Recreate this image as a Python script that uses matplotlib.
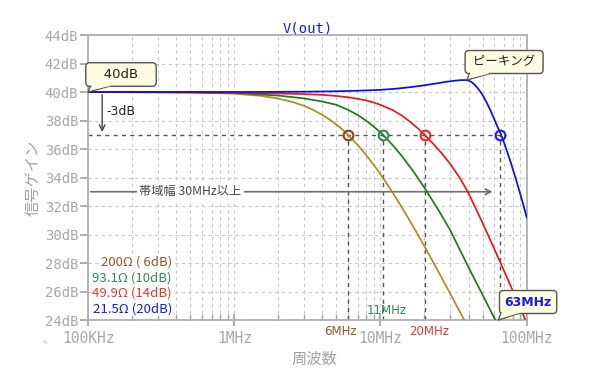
import matplotlib
matplotlib.use("Agg")
import matplotlib.pyplot as plt
from matplotlib.ticker import FixedLocator, NullFormatter

plt.rcParams['font.family'] = ['DejaVu Sans', 'Noto Sans CJK JP']
JP = ['Noto Sans CJK JP', 'DejaVu Sans']
MONO = ['DejaVu Sans Mono', 'Noto Sans CJK JP']

# ---- data (frequency in MHz, gain in dB) ----
f_brown = [0.1, 0.5, 1, 1.5, 2, 2.5, 3, 3.5, 4, 4.5, 5, 5.5, 6, 7, 8, 9, 10, 12, 15, 18, 20, 25, 30, 35, 40]
db_brown = [40.0, 39.97, 39.88, 39.74, 39.54, 39.30, 39.03, 38.72, 38.40, 38.06, 37.71, 37.36, 36.99,
            36.27, 35.56, 34.88, 34.23, 33.01, 31.40, 30.00, 29.17, 27.36, 25.85, 24.55, 23.43]

f_green = [0.1, 0.5, 1, 2, 3, 4, 5, 6, 7, 8, 9, 10.4, 12, 14, 17, 20, 25, 30, 40, 50, 60, 70]
db_green = [40.0, 39.98, 39.93, 39.75, 39.55, 39.33, 39.10, 38.75, 38.38, 37.98, 37.57, 37.0,
            36.32, 35.51, 34.35, 33.28, 31.69, 30.30, 27.70, 25.75, 24.15, 22.80]

f_red = [0.1, 1, 2, 3, 4, 5, 6, 7, 8, 9, 10, 12, 14, 16, 18, 20, 23, 26, 30, 35, 40, 50, 60, 70, 80, 90, 100]
db_red = [40.0, 39.95, 39.9, 39.85, 39.8, 39.72, 39.63, 39.52, 39.4, 39.26, 39.1, 38.75, 38.35, 37.9,
          37.45, 37.0, 36.35, 35.75, 34.95, 33.95, 32.9, 30.8, 29.0, 27.45, 26.1, 24.9, 23.8]

f_blue = [0.1, 1, 2, 3, 5, 7, 10, 13, 16, 20, 24, 28, 32, 35, 38, 40, 42, 44, 46, 48, 50, 53, 56, 59,
          62, 66.8, 70, 77, 84, 90, 95, 100]
db_blue = [40.0, 40.0, 40.01, 40.02, 40.05, 40.09, 40.15, 40.24, 40.34, 40.47, 40.6, 40.71, 40.79,
           40.83, 40.84, 40.8, 40.7, 40.52, 40.3, 40.05, 39.78, 39.3, 38.8, 38.27, 37.75, 37.0,
           36.45, 35.2, 33.95, 32.9, 32.05, 31.2]

marker_f = [6.0, 10.4, 20.2, 66.0]
marker_db = 37.0
freq_labels = ["6MHz", "11MHz", "20MHz", "63MHz"]
legend_labels = ["200Ω ( 6dB)", "93.1Ω (10dB)", "49.9Ω (14dB)", "21.5Ω (20dB)"]
yticks = [24, 26, 28, 30, 32, 34, 36, 38, 40, 42, 44]
xticks = [0.1, 1, 10, 100]
xticklabels = ["100KHz", "1MHz", "10MHz", "100MHz"]
bw_db = 33.0
bw_end = 61.0

curve_colors = ["#b08a22", "#1f7a1f", "#e81818", "#0a0af0"]
text_colors = ["#8b5a2b", "#2e8b57", "#e03a2a", "#1a1ae0"]
marker_colors = ["#8b4513", "#2e8b57", "#e03020", "#1a1ae0"]

fig = plt.figure(figsize=(6.0, 3.81), dpi=100)
ax = fig.add_axes([88/600, 1-320/381, (526.7-88)/600, (320-35)/381])
ax.set_xscale('log')
ax.set_xlim(0.1, 100)
ax.set_ylim(24, 44)


def px2d(px, py):
    """pixel position of the reference layout -> data coordinates"""
    return 0.1*10**((px-88)/146.2), 44-(py-35)/14.25


# grid
minors = [m*10.0**e for e in range(-1, 2) for m in range(2, 10)]
ax.xaxis.set_major_locator(FixedLocator(xticks))
ax.xaxis.set_minor_locator(FixedLocator(minors))
ax.xaxis.set_minor_formatter(NullFormatter())
ax.set_xticklabels(xticklabels)
ax.set_yticks(yticks)
ax.set_yticklabels([f"{v}dB" for v in yticks])
ax.grid(True, which='both', axis='x', color='#c8c8c8', linestyle=(0, (3, 3)), lw=0.8)
ax.grid(True, which='major', axis='y', color='#c8c8c8', linestyle=(0, (3, 3)), lw=0.8)
ax.set_axisbelow(True)

for s in ax.spines.values():
    s.set_color('#b4b4b4')
    s.set_linewidth(1.4)
ax.tick_params(axis='y', which='major', direction='out', length=6, color='#a0a0a0',
               labelcolor='#a8a8a8', labelsize=10, width=1.2, pad=1)
ax.tick_params(axis='x', which='major', direction='inout', length=8, color='#a0a0a0',
               labelcolor='#a8a8a8', labelsize=10.5, width=1.2, pad=4)
ax.tick_params(axis='x', which='minor', direction='in', length=4, color='#a0a0a0', width=1.0)
for lbl in ax.get_xticklabels() + ax.get_yticklabels():
    lbl.set_fontfamily(MONO)

# dark dashed reference lines
ax.plot([0.1, 72], [marker_db, marker_db], color='#555555', lw=1.0, ls=(0, (3, 3)), zorder=2)
for mf in marker_f:
    ax.plot([mf, mf], [24, marker_db], color='#555555', lw=1.0, ls=(0, (3, 3)), zorder=2)

# curves
series = [(f_brown, db_brown), (f_green, db_green), (f_red, db_red), (f_blue, db_blue)]
for (fx, dy), c in zip(series, curve_colors):
    ax.plot(fx, dy, color=c, lw=1.25, zorder=4)
for mf, mc in zip(marker_f, marker_colors):
    ax.plot([mf], [marker_db], marker='o', ms=7, mfc='none', mec=mc, mew=1.5, zorder=5)

# bandwidth arrow
ax.annotate("", xy=(bw_end, bw_db), xytext=(0.1, bw_db),
            arrowprops=dict(arrowstyle='->', color='#707070', lw=1.2), zorder=3)
ax.text(0.50, bw_db, "帯域幅 30MHz以上", family=JP, fontsize=8.8, color='#444444',
        ha='center', va='center', zorder=4,
        bbox=dict(boxstyle='square,pad=0.2', fc='white', ec='none'))

# -3dB arrow
ax.annotate("", xy=(0.125, 37.0), xytext=(0.125, 40.0),
            arrowprops=dict(arrowstyle='->', color='#444444', lw=1.0), zorder=3)
ax.text(0.133, 38.6, "-3dB", fontsize=9, color='#222222', ha='left', va='center')

# callouts (box + pointer)
FC, EC = '#fdfde2', '#555555'


def callout(text, tip, center, anchor, color, **kw):
    cen_d = px2d(*center)
    anc_d = px2d(*anchor)
    wedge = 'wedge,tail_width=1.5,shrink_factor=0.5'
    # outlined pointer under the box
    ax.annotate("", xy=tip, xytext=anc_d, annotation_clip=False, zorder=6,
                arrowprops=dict(arrowstyle=wedge, mutation_scale=10, fc=FC, ec=EC, lw=1.0,
                                patchA=None, shrinkA=0, shrinkB=0))
    # the box alone (invisible text)
    ax.text(cen_d[0], cen_d[1], text, ha='center', va='center', zorder=7, clip_on=False,
            color='none',
            bbox=dict(boxstyle='round,pad=0.4,rounding_size=0.3', fc=FC, ec=EC, lw=1.0), **kw)
    # fill-only pointer over the box border
    ax.annotate("", xy=tip, xytext=anc_d, annotation_clip=False, zorder=7.5,
                arrowprops=dict(arrowstyle=wedge, mutation_scale=10, fc=FC, ec='none', lw=0,
                                patchA=None, shrinkA=0, shrinkB=1.5))
    # the text on top
    ax.text(cen_d[0], cen_d[1], text, ha='center', va='center', zorder=8, clip_on=False,
            color=color, **kw)


callout("   40dB   ", (0.1, 40.0), (121, 74.5), (104, 78), '#222222', fontsize=9.5)
callout(" ピーキング ", (39.0, 40.84), (504, 62), (482, 66), '#222222', fontsize=9, family=JP)
callout("63MHz", (64.0, 24.0), (528, 302), (514, 305), '#1a1ae0', fontsize=9, fontweight='bold')

# frequency labels
ax.text(5.3, 23.18, freq_labels[0], color=text_colors[0], fontsize=8.5,
        ha='center', va='center', clip_on=False)
ax.text(11.1, 24.65, freq_labels[1], color=text_colors[1], fontsize=8.5,
        ha='center', va='center', clip_on=False)
ax.text(21.5, 23.18, freq_labels[2], color=text_colors[2], fontsize=8.5,
        ha='center', va='center', clip_on=False)

# legend text
ly = [28.09, 26.93, 25.87, 24.75]
for lab, col, yy in zip(legend_labels, text_colors, ly):
    ax.text(0.375, yy, lab, color=col, fontsize=9.5, family=JP, ha='right', va='center',
            bbox=dict(boxstyle='square,pad=0.05', fc='white', ec='none'))

ax.set_title("V(out)", color='#1a1ae0', fontsize=10, family=MONO, pad=2)
ax.set_ylabel("信号ゲイン", family=JP, color='#a0a0a0', fontsize=11, labelpad=2)
ax.set_xlabel("周波数", family=JP, color='#a0a0a0', fontsize=11)
ax.xaxis.set_label_coords((314-88)/(526.7-88), -0.108)
fig.text(48/600, 1-340/381, "、", family=JP, color='#b0b0b0', fontsize=8, ha='center', va='center')

fig.savefig("out.png", dpi=100)
